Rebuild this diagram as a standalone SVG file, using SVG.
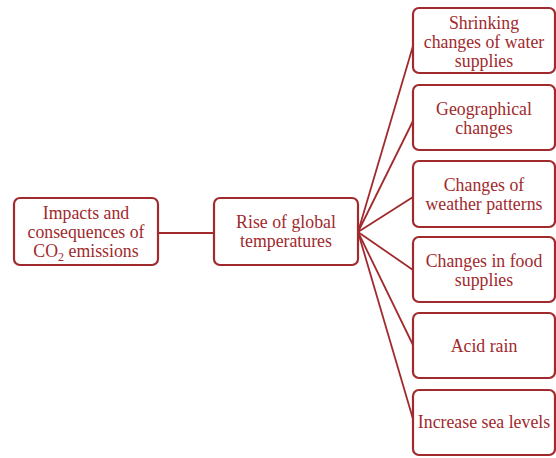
<svg xmlns="http://www.w3.org/2000/svg" width="556" height="458" viewBox="0 0 556 458">
<style>
.box{fill:#fff;stroke:#a02a2d;stroke-width:2.2}
.t{font-family:"Liberation Serif",serif;font-size:17.8px;fill:#a02a2d;text-anchor:middle}
.c{stroke:#a02a2d;stroke-width:1.8;fill:none}
</style>
<rect width="556" height="458" fill="#fff"/>
<g id="connectors">
<line class="c" x1="158" y1="233" x2="214" y2="233"/>
<line class="c" x1="358" y1="232" x2="413" y2="46"/>
<line class="c" x1="358" y1="232" x2="413" y2="121"/>
<line class="c" x1="358" y1="232" x2="413" y2="197"/>
<line class="c" x1="358" y1="232" x2="413" y2="270"/>
<line class="c" x1="358" y1="232" x2="413" y2="345"/>
<line class="c" x1="358" y1="232" x2="413" y2="419"/>
</g>
<g id="n-impacts">
<rect class="box" x="14" y="198" width="144" height="67" rx="6"/>
<text class="t" x="86" y="219">Impacts  and</text>
<text class="t" x="86" y="238">consequences of</text>
<text class="t" x="86" y="257">CO<tspan font-size="12" dy="4">2</tspan><tspan dy="-4"> emissions</tspan></text>
</g>
<g id="n-rise">
<rect class="box" x="214" y="198" width="144" height="67" rx="6"/>
<text class="t" x="286" y="228">Rise of global</text>
<text class="t" x="286" y="247">temperatures</text>
</g>
<g id="n-water">
<rect class="box" x="413" y="8" width="142" height="65" rx="6"/>
<text class="t" x="484" y="29">Shrinking</text>
<text class="t" x="484" y="48">changes of water</text>
<text class="t" x="484" y="67">supplies</text>
</g>
<g id="n-geo">
<rect class="box" x="413" y="85" width="142" height="65" rx="6"/>
<text class="t" x="484" y="115">Geographical</text>
<text class="t" x="484" y="134">changes</text>
</g>
<g id="n-weather">
<rect class="box" x="413" y="161" width="142" height="66" rx="6"/>
<text class="t" x="484" y="191">Changes of</text>
<text class="t" x="484" y="210">weather patterns</text>
</g>
<g id="n-food">
<rect class="box" x="413" y="237" width="142" height="65" rx="6"/>
<text class="t" x="484" y="267">Changes in food</text>
<text class="t" x="484" y="286">supplies</text>
</g>
<g id="n-acid">
<rect class="box" x="413" y="313" width="142" height="65" rx="6"/>
<text class="t" x="484" y="352">Acid rain</text>
</g>
<g id="n-sea">
<rect class="box" x="413" y="390" width="142" height="65" rx="6"/>
<text class="t" x="484" y="428">Increase sea levels</text>
</g>
</svg>
